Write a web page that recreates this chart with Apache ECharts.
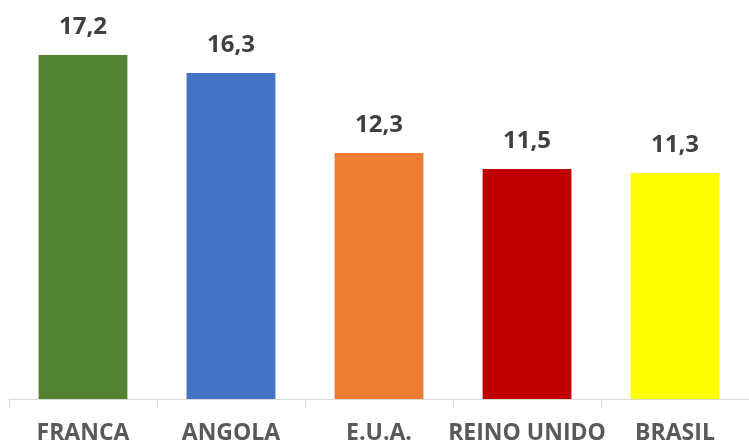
<!DOCTYPE html>
<html>
<head>
<meta charset="utf-8">
<title>Chart</title>
<script src="https://cdn.jsdelivr.net/npm/echarts@6/dist/echarts.min.js"></script>
<style>
html,body{margin:0;padding:0;background:#fff;}
#container{width:749px;height:445px;}
</style>
</head>
<body>
<div id="container"></div>
<script type="text/javascript">
var categories = ['FRANCA', 'ANGOLA', 'E.U.A.', 'REINO UNIDO', 'BRASIL'];
var values = [17.2, 16.3, 12.3, 11.5, 11.3];
var colors = ['#548235', '#4472C4', '#ED7D31', '#C00000', '#FFFF00'];

var myChart = echarts.init(document.getElementById('container'));
var option = {
	animation: false,
	grid: {left: 9, right: 0, top: 39, bottom: 46},
	xAxis: {
		type: 'category',
		data: categories,
		axisLine: {lineStyle: {color: '#d9d9d9', width: 1}},
		axisTick: {show: true, length: 8, lineStyle: {color: '#d9d9d9'}},
		axisLabel: {
			interval: 0,
			margin: 23,
			color: '#595959',
			fontFamily: 'Open Sans',
			fontWeight: 'bold',
			fontSize: 23
		}
	},
	yAxis: {
		type: 'value',
		min: 0,
		max: 18,
		show: false,
		splitLine: {show: false}
	},
	series: [{
		type: 'bar',
		barCategoryGap: '40%',
		data: values.map(function (v, i) {
			return {value: v, itemStyle: {color: colors[i]}};
		}),
		label: {
			show: true,
			position: 'top',
			distance: 16,
			color: '#404040',
			fontFamily: 'Open Sans',
			fontWeight: 'bold',
			fontSize: 24,
			formatter: function (p) { return String(p.value).replace('.', ','); }
		}
	}]
};
myChart.setOption(option);
</script>
</body>
</html>
